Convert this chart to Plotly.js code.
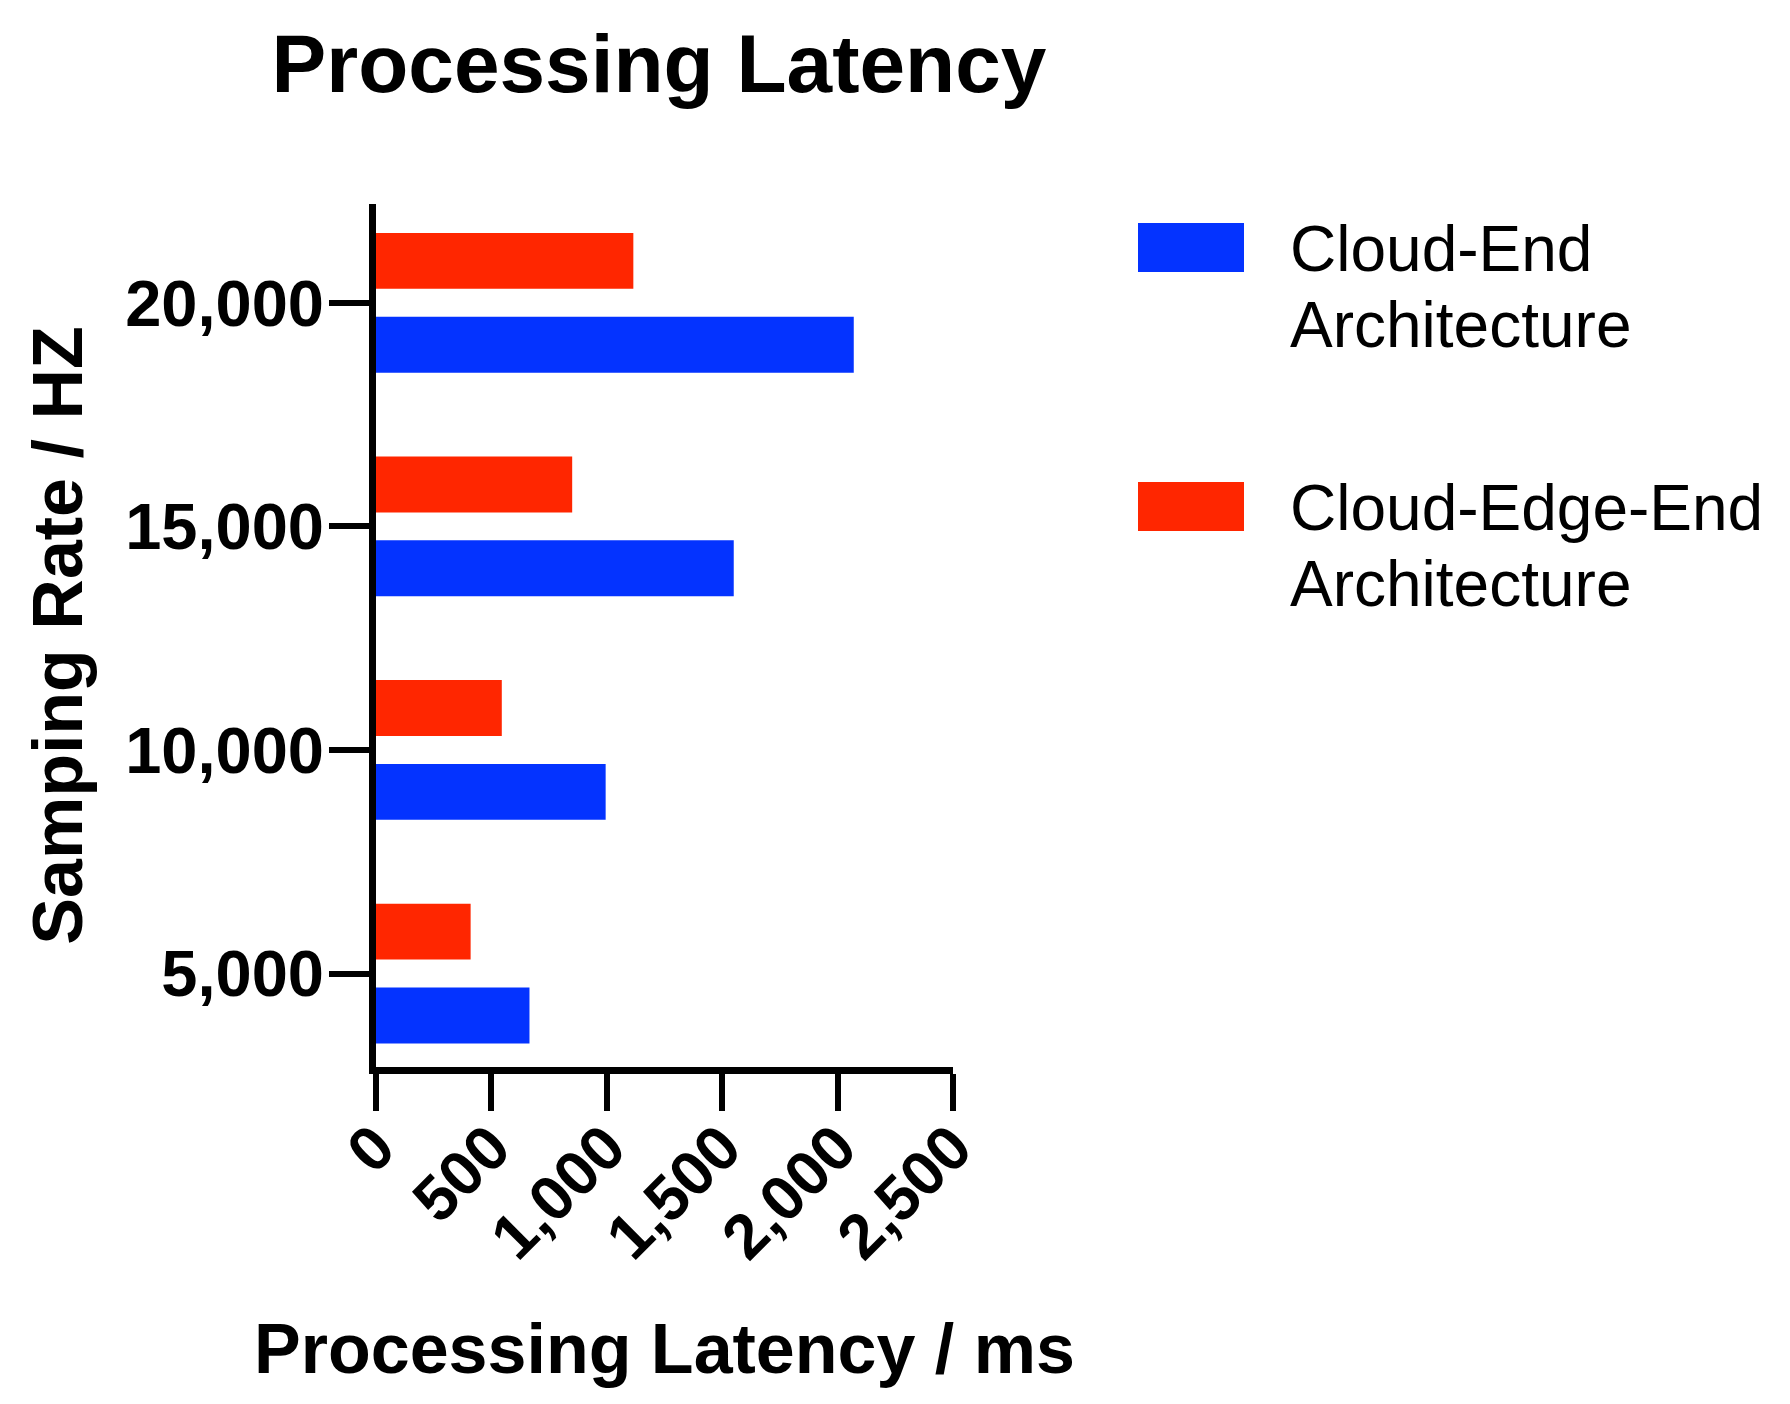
<!DOCTYPE html>
<html>
<head>
<meta charset="utf-8">
<script src="https://cdn.plot.ly/plotly-3.0.1.min.js"></script>
<style>
  body { margin: 0; background: #fff; }
  #chart { width: 1790px; height: 1404px; }
</style>
</head>
<body>
<div id="chart"></div>
<script>
// sampling rates (Hz) on the y axis
const rates = [5000, 10000, 15000, 20000];
// processing latency in ms
const cloudEnd = [665, 995, 1550, 2070];
const cloudEdgeEnd = [410, 545, 850, 1115];
const seriesNames = ["Cloud-End Architecture", "Cloud-Edge-End Architecture"];
const seriesColors = ["#0433FF", "#FF2600"];
const xTicks = [0, 500, 1000, 1500, 2000, 2500];

const W = 1790, H = 1404;
const M = { l: 376, r: 837, t: 204, b: 337 };
const plotW = W - M.l - M.r;
const plotH = H - M.t - M.b;
// pixel -> paper helpers for the hand-made legend
const px = (x) => (x - M.l) / plotW;
const py = (y) => (H - M.b - y) / plotH;

const font = "Liberation Sans, Arial, Helvetica, sans-serif";

const traces = [cloudEnd, cloudEdgeEnd].map((vals, i) => ({
    type: "bar",
    orientation: "h",
    x: vals,
    y: rates,
    name: seriesNames[i],
    marker: { color: seriesColors[i], line: { width: 0 } },
    showlegend: false,
    hoverinfo: "x+y"
}));

// legend: big swatches + two-line labels, like the original
const shapes = [];
const annotations = [];
const legendTop = [223, 482];
seriesNames.forEach((name, i) => {
    const top = legendTop[i];
    shapes.push({
        type: "rect", xref: "paper", yref: "paper",
        x0: px(1138), x1: px(1244), y0: py(top), y1: py(top + 49),
        fillcolor: seriesColors[i], line: { width: 0 }
    });
    name.split(" ").forEach((line, j) => {
        annotations.push({
            xref: "paper", yref: "paper",
            x: px(1288), y: py(top + 26 + j * 76),
            xanchor: "left", yanchor: "middle",
            text: line, showarrow: false,
            font: { family: font, size: 64, color: "#000" }
        });
    });
});

const layout = {
    width: W,
    height: H,
    margin: M,
    paper_bgcolor: "#fff",
    plot_bgcolor: "#fff",
    barmode: "group",
    bargap: 0.25,
    bargroupgap: 0.333,
    showlegend: false,
    title: {
        text: "Processing Latency",
        font: { family: font, size: 82, weight: "bold", color: "#000" },
        x: 659 / W, xref: "container", xanchor: "center",
        y: 1 - 63 / H, yref: "container", yanchor: "middle"
    },
    xaxis: {
        range: [0, 2500],
        tickvals: xTicks,
        tickformat: ",",
        tickangle: -45,
        ticks: "outside",
        ticklen: 37,
        tickwidth: 6,
        tickcolor: "#000",
        showline: true,
        linewidth: 7,
        linecolor: "#000",
        showgrid: false,
        zeroline: false,
        ticklabelstandoff: -26,
        tickfont: { family: font, size: 63, weight: "bold", color: "#000" },
        title: {
            text: "Processing Latency / ms",
            font: { family: font, size: 70, weight: "bold", color: "#000" },
            standoff: 55
        },
        automargin: false
    },
    yaxis: {
        range: [2910, 22210],
        tickvals: rates,
        tickformat: ",",
        ticks: "outside",
        ticklen: 40,
        tickwidth: 6,
        tickcolor: "#000",
        showline: true,
        linewidth: 7,
        linecolor: "#000",
        showgrid: false,
        zeroline: false,
        ticklabelstandoff: -8,
        tickfont: { family: font, size: 65, weight: "bold", color: "#000" },
        title: {
            text: "Samping Rate / HZ",
            font: { family: font, size: 70, weight: "bold", color: "#000" },
            standoff: 22
        },
        automargin: false
    },
    shapes: shapes,
    annotations: annotations
};

Plotly.newPlot("chart", traces, layout, { displayModeBar: false, staticPlot: true });
</script>
</body>
</html>
